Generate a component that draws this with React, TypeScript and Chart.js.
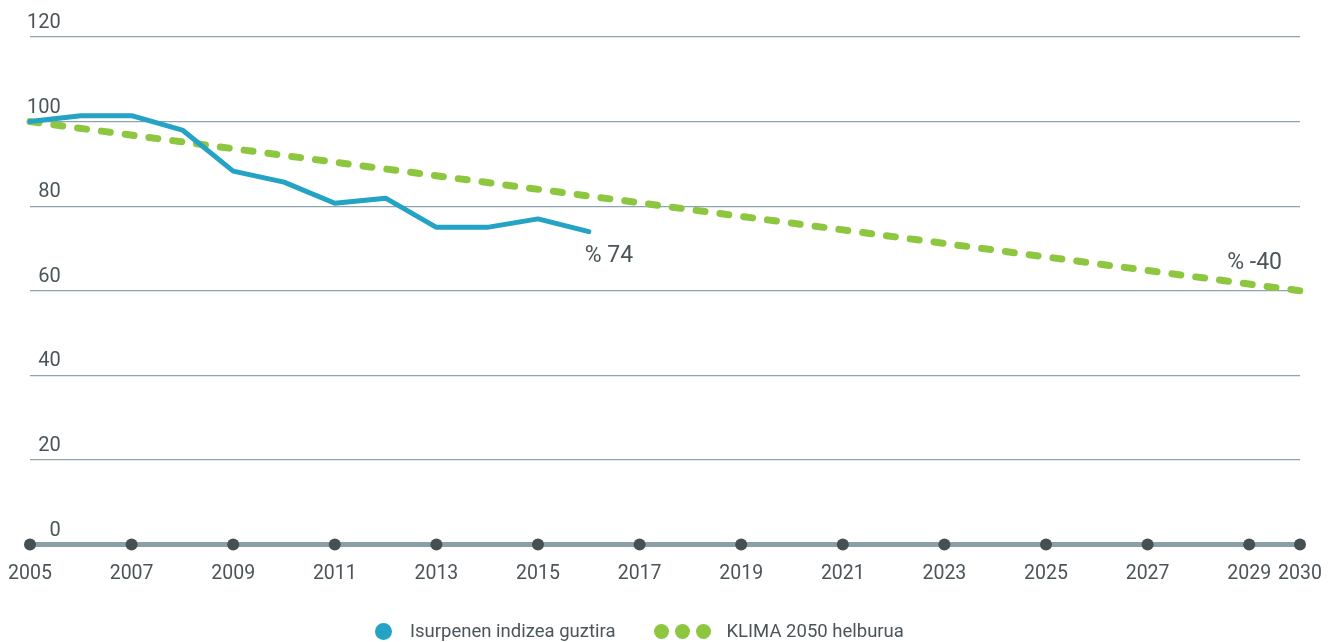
import { useEffect, useRef } from 'react';
import { Chart, registerables } from 'chart.js';

Chart.register(...registerables);

// emissions index, 2005 = 100
const indexYears = [2005, 2006, 2007, 2008, 2009, 2010, 2011, 2012, 2013, 2014, 2015, 2016];
const indexValues = [100, 101.4, 101.4, 98, 88.3, 85.7, 80.7, 81.9, 75, 75, 77, 74];

// KLIMA 2050 target path
const targetYears = [2005, 2030];
const targetValues = [100, 60];

const tickYears = [2005, 2007, 2009, 2011, 2013, 2015, 2017, 2019, 2021, 2023, 2025, 2027, 2029, 2030];
const yTicks = [0, 20, 40, 60, 80, 100, 120];

const endLabels = ['% 74', '% -40'];

const BLUE = '#24a3c4';
const GREEN = '#8dc63f';
const TEXT = '#4b5559';
const FONT = 'Roboto, "Open Sans", sans-serif';

const endLabelPlugin = {
  id: 'endLabels',
  afterDatasetsDraw(chart: Chart) {
    const { ctx, scales } = chart;
    const x = scales.x;
    const y = scales.y;
    ctx.save();
    ctx.fillStyle = TEXT;
    ctx.font = `400 23px ${FONT}`;
    ctx.textBaseline = 'middle';
    const li = indexValues.length - 1;
    ctx.textAlign = 'left';
    ctx.fillText(endLabels[0], x.getPixelForValue(indexYears[li]) - 4, y.getPixelForValue(indexValues[li]) + 25);
    const ti = targetValues.length - 1;
    ctx.textAlign = 'right';
    ctx.fillText(endLabels[1], x.getPixelForValue(targetYears[ti]) - 18, y.getPixelForValue(targetValues[ti]) - 28);
    ctx.restore();
  },
};

function EmissionsChart() {
  const canvasRef = useRef<HTMLCanvasElement>(null);

  useEffect(() => {
    if (!canvasRef.current) return;
    const chart = new Chart(canvasRef.current, {
      type: 'scatter',
      data: {
        datasets: [
          {
            label: 'ticks',
            data: tickYears.map((yr) => ({ x: yr, y: 0 })),
            showLine: false,
            pointRadius: 6,
            pointBackgroundColor: '#465053',
            pointBorderWidth: 0,
            clip: false,
            order: 0,
          },
          {
            label: 'KLIMA 2050 helburua',
            data: targetYears.map((yr, i) => ({ x: yr, y: targetValues[i] })),
            showLine: true,
            borderColor: GREEN,
            borderWidth: 7,
            borderDash: [9, 15],
            borderCapStyle: 'round',
            pointRadius: 0,
            clip: false,
            order: 2,
          },
          {
            label: 'Isurpenen indizea guztira',
            data: indexYears.map((yr, i) => ({ x: yr, y: indexValues[i] })),
            showLine: true,
            borderColor: BLUE,
            borderWidth: 5,
            borderJoinStyle: 'round',
            borderCapStyle: 'round',
            pointRadius: 0,
            clip: false,
            order: 1,
          },
        ],
      },
      options: {
        animation: false,
        responsive: true,
        maintainAspectRatio: false,
        layout: { padding: { left: 30, right: 36, top: 37, bottom: 38 } },
        plugins: { legend: { display: false }, tooltip: { enabled: false } },
        scales: {
          x: {
            type: 'linear',
            min: 2005,
            max: 2030,
            afterBuildTicks: (scale) => {
              scale.ticks = tickYears.map((v) => ({ value: v }));
            },
            afterFit: (scale) => {
              scale.paddingLeft = 0;
              scale.paddingRight = 0;
            },
            grid: { display: true, drawOnChartArea: false, drawTicks: false },
            border: { display: true, color: '#89a0a9', width: 5 },
            ticks: {
              autoSkip: false,
              maxRotation: 0,
              padding: 18,
              color: TEXT,
              font: { family: FONT, size: 19.5 },
              callback: (v) => String(v),
            },
          },
          y: {
            min: 0,
            max: 120,
            afterBuildTicks: (scale) => {
              scale.ticks = yTicks.map((v) => ({ value: v }));
            },
            afterFit: (scale) => {
              scale.width = 0;
              scale.paddingTop = 0;
              scale.paddingBottom = 0;
            },
            grid: {
              drawTicks: false,
              color: (c) => (c.tick && c.tick.value === 0 ? 'rgba(0,0,0,0)' : '#8ea3ad'),
              lineWidth: 1.2,
            },
            border: { display: false },
            ticks: {
              mirror: true,
              crossAlign: 'far',
              padding: -3,
              labelOffset: -14,
              color: TEXT,
              font: { family: FONT, size: 20 },
              callback: (v) => String(v),
            },
          },
        },
      },
      plugins: [endLabelPlugin],
    });
    return () => {
      chart.destroy();
    };
  }, []);

  return <canvas ref={canvasRef} />;
}

function Legend() {
  const dot = (color: string, size: number) => (
    <span
      style={{
        display: 'inline-block',
        width: size,
        height: size,
        borderRadius: '50%',
        background: color,
      }}
    />
  );
  return (
    <div
      style={{
        position: 'absolute',
        left: 375,
        top: 619,
        height: 24,
        display: 'flex',
        alignItems: 'center',
        fontFamily: FONT,
        fontSize: 18.5,
        color: TEXT,
        whiteSpace: 'nowrap',
      }}
    >
      <span style={{ display: 'flex', alignItems: 'center' }}>
        {dot(BLUE, 17)}
        <span style={{ marginLeft: 18 }}>Isurpenen indizea guztira</span>
      </span>
      <span style={{ display: 'flex', alignItems: 'center', marginLeft: 38, gap: 6 }}>
        {dot(GREEN, 15)}
        {dot(GREEN, 15)}
        {dot(GREEN, 15)}
        <span style={{ marginLeft: 10 }}>KLIMA 2050 helburua</span>
      </span>
    </div>
  );
}

export default function App() {
  return (
    <div style={{ position: 'absolute', left: 0, top: 0, width: 1336, height: 642, background: '#fff' }}>
      <div style={{ position: 'absolute', left: 0, top: 0, width: 1336, height: 642 }}>
        <EmissionsChart />
      </div>
      <Legend />
    </div>
  );
}
